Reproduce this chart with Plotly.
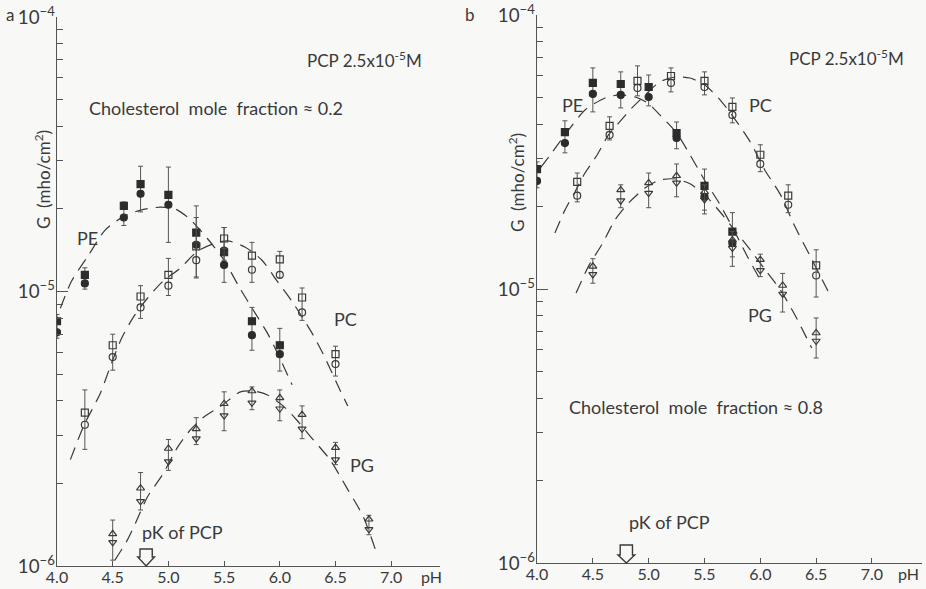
import plotly.graph_objects as go

# ---------------- Panel a : cholesterol mole fraction ~0.2 ----------------
A_PE_PH = [4.0, 4.25, 4.6, 4.75, 5.0, 5.25, 5.5, 5.75, 6.0]
A_PE_SQ = [7.79e-6, 1.15e-5, 2.05e-5, 2.46e-5, 2.25e-5, 1.64e-5, 1.39e-5, 7.79e-6, 6.37e-6]
A_PE_CI = [7.10e-6, 1.07e-5, 1.86e-5, 2.27e-5, 2.07e-5, 1.48e-5, 1.25e-5, 6.93e-6, 5.91e-6]
A_PE_HI = [8.25e-6, 1.22e-5, 2.12e-5, 2.86e-5, 2.84e-5, 2.05e-5, 1.71e-5, 8.75e-6, 7.34e-6]
A_PE_LO = [6.76e-6, 1.02e-5, 1.74e-5, 1.95e-5, 1.51e-5, 1.12e-5, 1.08e-5, 6.11e-6, 5.13e-6]

A_PC_PH = [4.25, 4.5, 4.75, 5.0, 5.25, 5.5, 5.75, 6.0, 6.2, 6.5]
A_PC_SQ = [3.62e-6, 6.37e-6, 9.59e-6, 1.15e-5, 1.46e-5, 1.56e-5, 1.35e-5, 1.31e-5, 9.51e-6, 5.91e-6]
A_PC_CI = [3.27e-6, 5.77e-6, 8.75e-6, 1.05e-5, 1.30e-5, 1.41e-5, 1.20e-5, 1.15e-5, 8.39e-6, 5.44e-6]
A_PC_HI = [4.38e-6, 6.99e-6, 1.05e-5, 1.32e-5, 1.86e-5, 1.71e-5, 1.51e-5, 1.40e-5, 1.03e-5, 6.32e-6]
A_PC_LO = [2.66e-6, 5.17e-6, 7.98e-6, 9.67e-6, 1.13e-5, 1.30e-5, 1.08e-5, 1.12e-5, 7.85e-6, 4.92e-6]

A_PG_PH = [4.5, 4.75, 5.0, 5.25, 5.5, 5.75, 6.0, 6.2, 6.5, 6.8]
A_PG_UP = [1.31e-6, 1.92e-6, 2.68e-6, 3.16e-6, 3.90e-6, 4.34e-6, 4.10e-6, 3.56e-6, 2.70e-6, 1.48e-6]
A_PG_DN = [1.22e-6, 1.72e-6, 2.40e-6, 2.91e-6, 3.53e-6, 3.93e-6, 3.74e-6, 3.16e-6, 2.44e-6, 1.36e-6]
A_PG_HI = [1.47e-6, 2.19e-6, 2.89e-6, 3.47e-6, 4.31e-6, 4.49e-6, 4.38e-6, 3.83e-6, 2.82e-6, 1.53e-6]
A_PG_LO = [1.05e-6, 1.60e-6, 2.23e-6, 2.77e-6, 3.11e-6, 3.71e-6, 3.38e-6, 2.91e-6, 2.34e-6, 1.30e-6]

# dashed fitted curves
A_PE_CURVE_PH = [4.03, 4.13, 4.28, 4.43, 4.59, 4.75, 4.93, 5.06, 5.19, 5.35, 5.50, 5.64, 5.78, 5.89, 6.00, 6.11]
A_PE_CURVE_G = [8.69e-6, 1.09e-5, 1.35e-5, 1.67e-5, 1.87e-5, 1.98e-5, 2.03e-5, 2.00e-5, 1.84e-5, 1.56e-5,
                1.30e-5, 1.03e-5, 8.32e-6, 7.04e-6, 5.72e-6, 4.57e-6]
A_PC_CURVE_PH = [4.12, 4.24, 4.39, 4.49, 4.58, 4.69, 4.81, 4.95, 5.10, 5.26, 5.40, 5.53, 5.69, 5.84, 5.97,
                 6.11, 6.28, 6.39, 6.54, 6.61]
A_PC_CURVE_G = [2.44e-6, 3.24e-6, 4.27e-6, 5.49e-6, 6.76e-6, 8.12e-6, 9.43e-6, 1.09e-5, 1.21e-5, 1.40e-5,
                1.49e-5, 1.53e-5, 1.45e-5, 1.30e-5, 1.10e-5, 9.20e-6, 7.16e-6, 5.91e-6, 4.38e-6, 3.83e-6]
A_PG_CURVE_PH = [4.52, 4.63, 4.70, 4.81, 4.95, 5.08, 5.19, 5.31, 5.49, 5.64, 5.76, 5.89, 6.03, 6.15, 6.27,
                 6.45, 6.60, 6.75, 6.87]
A_PG_CURVE_G = [1.05e-6, 1.24e-6, 1.42e-6, 1.78e-6, 2.16e-6, 2.70e-6, 3.11e-6, 3.47e-6, 3.87e-6, 4.30e-6,
                4.34e-6, 4.20e-6, 3.83e-6, 3.41e-6, 2.98e-6, 2.44e-6, 1.93e-6, 1.51e-6, 1.11e-6]

# ---------------- Panel b : cholesterol mole fraction ~0.8 ----------------
B_PE_PH = [4.0, 4.25, 4.5, 4.75, 5.0, 5.25, 5.5, 5.75]
B_PE_SQ = [2.74e-5, 3.74e-5, 5.65e-5, 5.60e-5, 5.46e-5, 3.71e-5, 2.38e-5, 1.62e-5]
B_PE_CI = [2.48e-5, 3.41e-5, 5.15e-5, 5.11e-5, 5.02e-5, 3.56e-5, 2.17e-5, 1.47e-5]
B_PE_HI = [2.91e-5, 4.11e-5, 6.41e-5, 6.20e-5, 6.04e-5, 4.07e-5, 2.74e-5, 1.90e-5]
B_PE_LO = [2.34e-5, 3.14e-5, 4.43e-5, 4.58e-5, 4.66e-5, 3.25e-5, 1.88e-5, 1.21e-5]

B_PC_PH = [4.36, 4.65, 4.9, 5.2, 5.5, 5.75, 6.0, 6.25, 6.5]
B_PC_SQ = [2.46e-5, 3.94e-5, 5.75e-5, 5.99e-5, 5.75e-5, 4.62e-5, 3.09e-5, 2.19e-5, 1.22e-5]
B_PC_CI = [2.19e-5, 3.65e-5, 5.42e-5, 5.65e-5, 5.46e-5, 4.32e-5, 2.86e-5, 2.03e-5, 1.12e-5]
B_PC_HI = [2.65e-5, 4.25e-5, 6.52e-5, 6.41e-5, 6.20e-5, 4.98e-5, 3.36e-5, 2.40e-5, 1.39e-5]
B_PC_LO = [2.08e-5, 3.50e-5, 5.07e-5, 5.24e-5, 5.11e-5, 4.04e-5, 2.68e-5, 1.90e-5, 9.35e-6]

B_PG_PH = [4.5, 4.75, 5.0, 5.25, 5.5, 5.75, 6.0, 6.2, 6.5]
B_PG_UP = [1.21e-5, 2.30e-5, 2.44e-5, 2.59e-5, 2.26e-5, 1.51e-5, 1.28e-5, 1.03e-5, 6.91e-6]
B_PG_DN = [1.13e-5, 2.10e-5, 2.24e-5, 2.44e-5, 2.12e-5, 1.41e-5, 1.17e-5, 9.59e-6, 6.46e-6]
B_PG_HI = [1.29e-5, 2.40e-5, 2.65e-5, 2.86e-5, 2.40e-5, 1.62e-5, 1.34e-5, 1.14e-5, 7.84e-6]
B_PG_LO = [1.05e-5, 1.98e-5, 1.98e-5, 2.17e-5, 1.94e-5, 1.31e-5, 1.11e-5, 8.24e-6, 5.60e-6]

B_PE_CURVE_PH = [4.03, 4.12, 4.25, 4.43, 4.61, 4.74, 4.88, 4.99, 5.10, 5.25, 5.37, 5.50, 5.64, 5.77, 5.89, 6.00]
B_PE_CURVE_G = [2.77e-5, 3.09e-5, 3.65e-5, 4.50e-5, 4.98e-5, 5.11e-5, 5.02e-5, 4.78e-5, 4.32e-5, 3.71e-5,
                3.09e-5, 2.50e-5, 2.03e-5, 1.62e-5, 1.30e-5, 1.08e-5]
B_PC_CURVE_PH = [4.16, 4.25, 4.34, 4.43, 4.54, 4.64, 4.74, 4.85, 4.97, 5.10, 5.24, 5.37, 5.50, 5.64, 5.77,
                 5.91, 6.04, 6.18, 6.31, 6.45, 6.61]
B_PC_CURVE_G = [1.60e-5, 1.94e-5, 2.26e-5, 2.65e-5, 3.09e-5, 3.65e-5, 4.07e-5, 4.58e-5, 5.11e-5, 5.70e-5,
                5.94e-5, 5.89e-5, 5.56e-5, 4.90e-5, 4.18e-5, 3.44e-5, 2.72e-5, 2.21e-5, 1.69e-5, 1.31e-5, 9.75e-6]
B_PG_CURVE_PH = [4.35, 4.47, 4.58, 4.70, 4.83, 4.97, 5.10, 5.24, 5.37, 5.50, 5.64, 5.77, 5.91, 6.04, 6.18,
                 6.31, 6.46]
B_PG_CURVE_G = [9.67e-6, 1.23e-5, 1.45e-5, 1.79e-5, 2.08e-5, 2.34e-5, 2.50e-5, 2.52e-5, 2.42e-5, 2.21e-5,
                1.91e-5, 1.64e-5, 1.39e-5, 1.18e-5, 9.92e-6, 8.04e-6, 6.09e-6]

X_TICKS = [4.0, 4.5, 5.0, 5.5, 6.0, 6.5, 7.0]
X_TICK_TEXT = ["4.0", "4.5", "5.0", "5.5", "6.0", "6.5", "7.0"]
PK_PCP = 4.8

INK = "#3a3a3a"
FILL = "#2c2c2c"
FONT = "Lato"
BG = "#f8f8f7"

fig = go.Figure()


def curve(xs, ys, xa, ya):
    fig.add_trace(go.Scatter(x=xs, y=ys, mode="lines", xaxis=xa, yaxis=ya,
                             line=dict(color=INK, width=1.2, dash="13px,8px", shape="spline", smoothing=0.7),
                             hoverinfo="skip", showlegend=False))


def pair(xs, upper, lower, hi, lo, sym_up, sym_lo, filled, xa, ya):
    plus = [h - u for h, u in zip(hi, upper)]
    minus = [u - l for u, l in zip(upper, lo)]
    fig.add_trace(go.Scatter(x=xs, y=upper, mode="markers", xaxis=xa, yaxis=ya, showlegend=False,
                             error_y=dict(type="data", array=plus, arrayminus=minus, color="#555555",
                                          thickness=1, width=2.5),
                             marker=dict(symbol=sym_up, size=7, color=FILL if filled else INK,
                                         line=dict(width=1.2, color=FILL if filled else INK))))
    fig.add_trace(go.Scatter(x=xs, y=lower, mode="markers", xaxis=xa, yaxis=ya, showlegend=False,
                             marker=dict(symbol=sym_lo, size=7, color=FILL if filled else INK,
                                         line=dict(width=1.2, color=FILL if filled else INK))))


# panel a
curve(A_PE_CURVE_PH, A_PE_CURVE_G, "x", "y")
curve(A_PC_CURVE_PH, A_PC_CURVE_G, "x", "y")
curve(A_PG_CURVE_PH, A_PG_CURVE_G, "x", "y")
pair(A_PE_PH, A_PE_SQ, A_PE_CI, A_PE_HI, A_PE_LO, "square", "circle", True, "x", "y")
pair(A_PC_PH, A_PC_SQ, A_PC_CI, A_PC_HI, A_PC_LO, "square-open", "circle-open", False, "x", "y")
pair(A_PG_PH, A_PG_UP, A_PG_DN, A_PG_HI, A_PG_LO, "triangle-up-open", "triangle-down-open", False, "x", "y")
# panel b
curve(B_PE_CURVE_PH, B_PE_CURVE_G, "x2", "y2")
curve(B_PC_CURVE_PH, B_PC_CURVE_G, "x2", "y2")
curve(B_PG_CURVE_PH, B_PG_CURVE_G, "x2", "y2")
pair(B_PE_PH, B_PE_SQ, B_PE_CI, B_PE_HI, B_PE_LO, "square", "circle", True, "x2", "y2")
pair(B_PC_PH, B_PC_SQ, B_PC_CI, B_PC_HI, B_PC_LO, "square-open", "circle-open", False, "x2", "y2")
pair(B_PG_PH, B_PG_UP, B_PG_DN, B_PG_HI, B_PG_LO, "triangle-up-open", "triangle-down-open", False, "x2", "y2")

W, H = 926, 589


def px(x):
    return x / W


def py(y):
    return 1 - y / H


xcommon = dict(showgrid=False, zeroline=False, showline=True, linecolor="#555555", linewidth=1.4,
               ticks="inside", ticklen=5, tickcolor="#555555", tickwidth=1.2, automargin=False,
               tickmode="array", tickvals=X_TICKS, ticktext=X_TICK_TEXT,
               tickfont=dict(family=FONT, size=16, color=INK), ticklabelstandoff=-3)
ycommon = dict(type="log", range=[-6, -4], showgrid=False, zeroline=False, showline=True,
               linecolor="#555555", linewidth=1.4, ticks="inside", ticklen=11, tickcolor="#555555",
               tickwidth=1.2, dtick=1, exponentformat="power", automargin=False,
               tickfont=dict(family=FONT, size=15, color=INK), ticklabelstandoff=-2,
               minor=dict(ticks="inside", ticklen=6, tickcolor="#555555", tickwidth=1.2, dtick="D1",
                          showgrid=False))

fig.update_layout(
    width=W, height=H, margin=dict(l=0, r=0, t=0, b=0, autoexpand=False),
    paper_bgcolor=BG, plot_bgcolor=BG, showlegend=False,
    font=dict(family=FONT, color=INK),
    xaxis=dict(domain=[px(57), px(440)], range=[4.0, 7.438], anchor="y", **xcommon),
    yaxis=dict(domain=[py(566), py(17)], anchor="x", **ycommon),
    xaxis2=dict(domain=[px(537), px(922)], range=[4.0, 7.448], anchor="y2", **xcommon),
    yaxis2=dict(domain=[py(563), py(15)], anchor="x2", **ycommon),
)

ann = [
    ("a", 10, 14, 17, 0), ("b", 470, 14, 17, 0),
    ("PCP 2.5x10<sup>-5</sup>M", 364, 60, 17, 0),
    ("PCP 2.5x10<sup>-5</sup>M", 846, 57, 17, 0),
    ("Cholesterol  mole  fraction ≈ 0.2", 216, 108, 18, 0),
    ("Cholesterol  mole  fraction ≈ 0.8", 696, 407, 18, 0),
    ("PE", 87, 238, 18, 0), ("PC", 345, 319, 18, 0), ("PG", 362, 465, 18, 0),
    ("PE", 572, 105, 18, 0), ("PC", 760, 105, 18, 0), ("PG", 760, 315, 18, 0),
    ("pK of PCP", 182, 532, 18, 0), ("pK of PCP", 669, 522, 18, 0),
    ("pH", 431, 576, 16, 0), ("pH", 908, 573, 16, 0),
    ("G  (mho/cm<sup>2</sup>)", 42, 180, 17, -90), ("G  (mho/cm<sup>2</sup>)", 517, 183, 17, -90),
]
for t, x, y, s, ang in ann:
    fig.add_annotation(text=t, x=px(x), y=py(y), xref="paper", yref="paper", showarrow=False,
                       xanchor="center", yanchor="middle", textangle=ang,
                       font=dict(family=FONT, size=s, color=INK))


def arrow(xref, tip_y, top_y, neck_y):
    w_shaft, w_head = 0.055, 0.075
    path = (f"M {PK_PCP - w_shaft},{py(top_y)} L {PK_PCP + w_shaft},{py(top_y)} "
            f"L {PK_PCP + w_shaft},{py(neck_y)} L {PK_PCP + w_head},{py(neck_y)} "
            f"L {PK_PCP},{py(tip_y)} L {PK_PCP - w_head},{py(neck_y)} "
            f"L {PK_PCP - w_shaft},{py(neck_y)} Z")
    fig.add_shape(type="path", path=path, xref=xref, yref="paper",
                  line=dict(color=INK, width=1.4), fillcolor=BG)


arrow("x", 566, 549, 557)
arrow("x2", 563, 545, 555)

fig.write_html("out.html",
               config={"responsive": False, "displayModeBar": False},
               post_script="document.body.style.margin='0';document.body.style.padding='0';"
                           "document.documentElement.style.overflow='hidden';")
